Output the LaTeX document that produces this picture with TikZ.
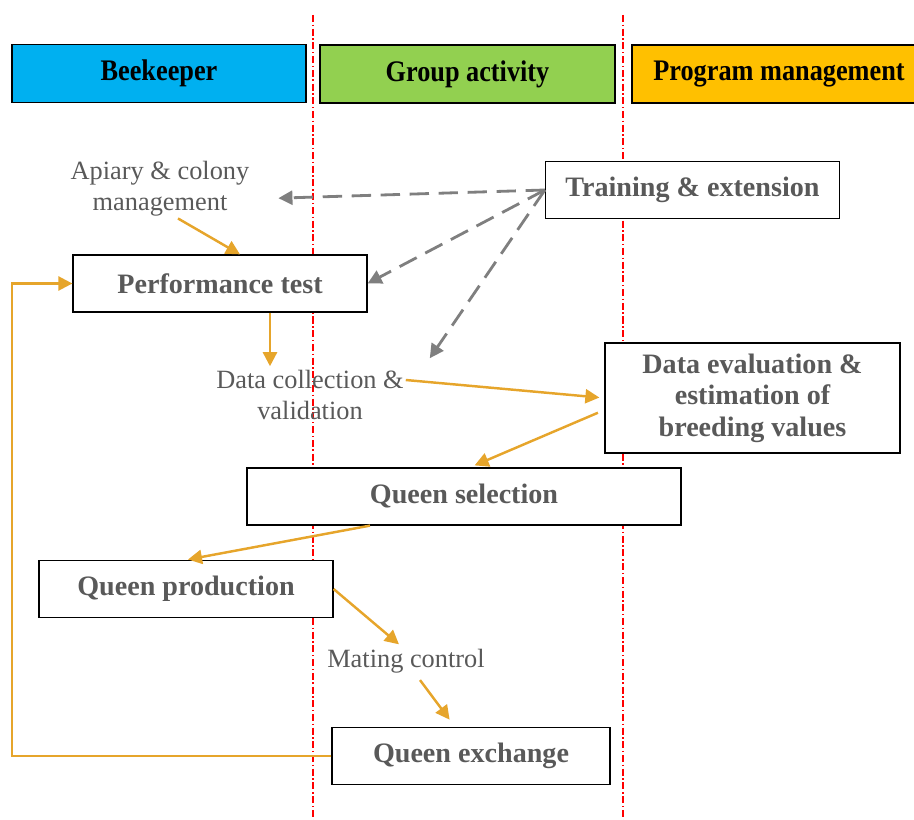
\documentclass[tikz,border=0pt]{standalone}
\usepackage{fontspec}
\setmainfont{Liberation Serif}
\usetikzlibrary{arrows.meta}
\definecolor{beecyan}{HTML}{00B0F0}
\definecolor{grpgreen}{HTML}{92D050}
\definecolor{prgorange}{HTML}{FFC000}
\definecolor{flowor}{HTML}{E6A52B}
\definecolor{txtgray}{HTML}{595959}
\definecolor{arrgray}{HTML}{7F7F7F}
\newcommand{\hdrtext}[1]{\scalebox{0.88}[1]{#1}}
\begin{document}
\begin{tikzpicture}[x=0.02cm,y=-0.02cm]

\def\u{0.02cm}
\def\boxw{294}
\def\boxh{57}

\tikzset{hdr/.style = {draw=black, line width=0.8pt, minimum width=\boxw*\u, minimum height=58*\u, inner sep=0pt, font=\bfseries\fontsize{17}{19}\selectfont},
box/.style = {draw=black, fill=white, line width=0.7pt, minimum width=\boxw*\u, minimum height=\boxh*\u, inner sep=0pt, align=center, text=txtgray, font=\bfseries\fontsize{16}{18}\selectfont},
lbl/.style = {inner sep=1pt, align=center, text=txtgray, font=\fontsize{15}{17.5}\selectfont},
flow/.style = {draw=flowor, line width=1.4pt, -{Triangle[length=8pt,width=8pt]}},
dashflow/.style = {draw=arrgray, line width=1.6pt, dash pattern=on 11pt off 5.5pt, -{Triangle[length=8pt,width=8pt]}},
lane/.style = {draw=red, line width=0.7pt, dash pattern=on 4pt off 1.5pt on 0.8pt off 1.5pt}}

\clip (0,0) rectangle (914,820);

\draw[lane] (313,15) -- (313,820);
\draw[lane] (623,15) -- (623,820);

\node[hdr,fill=beecyan] (hdrbee) at (159,73.5) {\hdrtext{Beekeeper}};
\node[hdr,fill=grpgreen,minimum width=295*\u] (hdrgrp) at (467.5,74) {\hdrtext{Group activity}};
\node[hdr,fill=prgorange,minimum width=298*\u] (hdrprg) at (781,74) {};
\node[font=\bfseries\fontsize{17}{19}\selectfont,inner sep=0pt] (hdrprgtxt) at (779,74) {\hdrtext{Program management}};

\node[box] (train) at (692.5,190) {Training \& extension};
\node[lbl] (apiary) at (160,189) {Apiary \& colony\\management};
\node[box] (perf) at (220,283.5) {Performance test};
\node[lbl] (datacol) at (310,395) {Data collection \&\\validation};
\node[box,minimum width=295*\u,minimum height=110*\u] (dataeval) at (752.5,398) {Data evaluation \&\\estimation of\\breeding values};
\node[box,minimum width=434*\u] (qsel) at (464,496.5) {Queen selection};
\node[box] (qprod) at (186,589) {Queen production};
\node[lbl] (mating) at (406,661) {Mating control};
\node[box,minimum width=278*\u] (qexch) at (471,756) {Queen exchange};

\coordinate (loopx) at (12,0);

\draw[dashflow,shorten >=27*\u] (train.west) -- ([yshift=-0.2cm]apiary.east);
\draw[dashflow] (train.west) -- (perf.east);
\draw[dashflow] (train.west) -- ([xshift=0.48cm,yshift=0.2cm]datacol.north east);

\draw[flow] ([xshift=0.36cm]apiary.south) -- ([xshift=0.4cm]perf.north);
\draw[flow] ([xshift=1cm]perf.south) -- ([xshift=1cm,yshift=0.04cm]perf.south |- datacol.north);
\draw[flow,shorten >=5*\u] ([yshift=0.3cm]datacol.east) -- (dataeval.west);
\draw[flow,shorten <=7*\u,shorten >=5*\u] ([yshift=-0.24cm]dataeval.west) -- ([xshift=0.12cm]qsel.north);
\draw[flow,shorten >=2*\u] ([xshift=-1.88cm]qsel.south) -- (qprod.north);
\draw[flow,shorten >=4*\u] (qprod.east) -- ([xshift=-0.08cm]mating.north);
\draw[flow,shorten >=9*\u] ([xshift=0.28cm,yshift=-0.1cm]mating.south) -- ([xshift=-0.32cm]qexch.north);
\draw[flow] (qexch.west) -- (qexch.west -| loopx) |- (perf.west);

\end{tikzpicture}
\end{document}
